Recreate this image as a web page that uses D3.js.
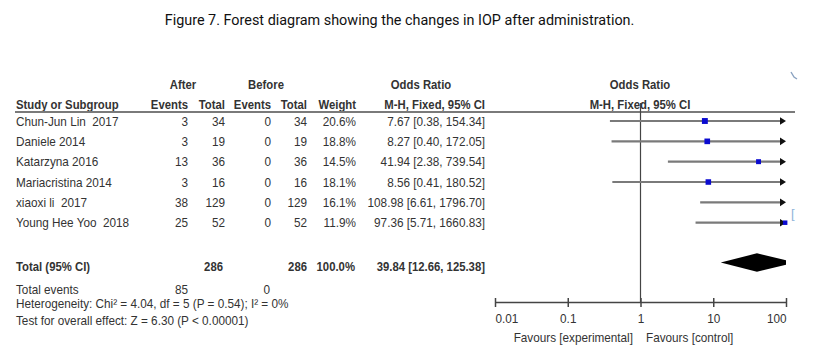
<!DOCTYPE html>
<html><head><meta charset="utf-8">
<script src="https://cdn.jsdelivr.net/npm/d3@7"></script>
<style>
html,body{margin:0;padding:0;background:#fff;}
svg{display:block;}
.t{font-family:"Liberation Sans",Arial,sans-serif;font-size:13.5px;fill:#333;}
.b{font-weight:bold;}
</style></head>
<body>
<script>
const studies = ["Chun-Jun Lin\u00a0 2017","Daniele 2014","Katarzyna 2016","Mariacristina 2014","xiaoxi li\u00a0 2017","Young Hee Yoo\u00a0 2018"];
const afterEvents = [3,3,13,3,38,25];
const afterTotal = [34,19,36,16,129,52];
const beforeEvents = [0,0,0,0,0,0];
const beforeTotal = [34,19,36,16,129,52];
const weights = [20.6,18.8,14.5,18.1,16.1,11.9];
const orValues = [7.67,8.27,41.94,8.56,108.98,97.36];
const ciLow = [0.38,0.40,2.38,0.41,6.61,5.71];
const ciHigh = [154.34,172.05,739.54,180.52,1796.70,1660.83];
const totalRow = ["Total (95% CI)", 286, 286, "100.0%", 39.84, 12.66, 125.38];
const totalEvents = [85, 0];
const axisTicks = [0.01,0.1,1,10,100];
const footnotes = ["Heterogeneity: Chi\u00b2 = 4.04, df = 5 (P = 0.54); I\u00b2 = 0%","Test for overall effect: Z = 6.30 (P < 0.00001)"];

const W=829,H=359;
const SR=0.87, SB=0.84;
const svg=d3.select("body").append("svg").attr("width",W).attr("height",H);

// title
svg.append("text").attr("x",399.5).attr("y",20).attr("dy","0.35em").attr("text-anchor","middle")
  .style("font-family","Roboto, 'Liberation Sans', sans-serif").style("font-size","14.4px").style("fill","#111")
  .text("Figure 7. Forest diagram showing the changes in IOP after administration.");

const x=d3.scaleLog().domain([0.01,100]).range([495,786]);
const y=d3.scaleLinear().domain([0,5]).range([121,222.7]);
const fmt=d3.format(".2f");
const ciText=(o,l,h)=>`${fmt(o)} [${fmt(l)}, ${fmt(h)}]`;

function txt(xp,yp,s,anchor,bold){
  return svg.append("text").attr("class","t"+(bold?" b":""))
    .attr("transform",`translate(${xp},${yp}) scale(${bold?SB:SR},1)`).attr("dy","0.35em")
    .attr("text-anchor",anchor||"start").text(s);
}
const col={name:16,ae:188,at:225,be:271,bt:307,w:356,ci:485,plot:640};

// headers
txt(183,84,"After","middle",true);
txt(266,84,"Before","middle",true);
txt(421,84,"Odds Ratio","middle",true);
txt(640,84,"Odds Ratio","middle",true);
const hy=104;
txt(col.name,hy,"Study or Subgroup","start",true);
txt(col.ae,hy,"Events","end",true);
txt(col.at,hy,"Total","end",true);
txt(col.be,hy,"Events","end",true);
txt(col.bt,hy,"Total","end",true);
txt(col.w,hy,"Weight","end",true);
txt(col.ci,hy,"M-H, Fixed, 95% CI","end",true);
txt(640,hy,"M-H, Fixed, 95% CI","middle",true);
svg.append("line").attr("x1",15).attr("x2",795).attr("y1",112).attr("y2",112).attr("stroke","#7a7a7a").attr("stroke-width",2);

// null line
svg.append("line").attr("x1",x(1)).attr("x2",x(1)).attr("y1",103).attr("y2",302).attr("stroke","#444").attr("stroke-width",1.2);

// rows
studies.forEach((s,i)=>{
  const yy=y(i);
  txt(col.name,yy,s);
  txt(col.ae,yy,afterEvents[i],"end");
  txt(col.at,yy,afterTotal[i],"end");
  txt(col.be,yy,beforeEvents[i],"end");
  txt(col.bt,yy,beforeTotal[i],"end");
  txt(col.w,yy,weights[i].toFixed(1)+"%","end");
  txt(col.ci,yy,ciText(orValues[i],ciLow[i],ciHigh[i]),"end");
  const [d0,d1]=x.domain();
  const lo=Math.max(ciLow[i],d0), hi=Math.min(ciHigh[i],d1);
  const xr=ciHigh[i]>d1?x(d1)-4:x(hi);
  svg.append("line").attr("x1",x(lo)).attr("x2",xr).attr("y1",yy).attr("y2",yy).attr("stroke","#7a7a7a").attr("stroke-width",2.2);
  if(ciHigh[i]>d1){
    const ax=x(d1);
    svg.append("path").attr("d",`M${ax-6},${yy-3.8}L${ax},${yy}L${ax-6},${yy+3.8}Z`).attr("fill","#111");
  }
  if(orValues[i]<=d1){
    const sz=1.3*Math.sqrt(weights[i]);
    svg.append("rect").attr("x",Math.min(x(orValues[i])-sz/2,x(d1)-sz/2)).attr("y",yy-sz/2).attr("width",sz).attr("height",sz).attr("fill","#0a0ad0");
  }
});

// total row
const ty=266.7;
txt(col.name,ty,totalRow[0],"start",true);
txt(223,ty,totalRow[1],"end",true);
txt(col.bt,ty,totalRow[2],"end",true);
txt(355,ty,totalRow[3],"end",true);
txt(col.ci,ty,ciText(totalRow[4],totalRow[5],totalRow[6]),"end",true);
{
  const dy=ty-4.2, hh=9.2;
  const dl=x(totalRow[5]), dc=x(totalRow[4]), xh=x(totalRow[6]), dr=x(100);
  const rh=Math.max(hh*(xh-dr)/(xh-dc),2.2);
  svg.append("path").attr("d",`M${dl},${dy}L${dc},${dy-hh}L${dr},${dy-rh}L${dr},${dy+rh}L${dc},${dy+hh}Z`)
    .attr("fill","#000");
}

txt(col.name,289.3,"Total events");
txt(col.ae,289.3,totalEvents[0],"end");
txt(270,289.3,totalEvents[1],"end");
txt(col.name,303.3,footnotes[0]);
txt(col.name,320.7,footnotes[1]);

// axis
const axY=302;
const ax=svg.append("g").attr("transform",`translate(0,${axY})`)
  .call(d3.axisBottom(x).tickValues(axisTicks).tickFormat(d=>String(d)).tickSize(5).tickSizeOuter(0));
ax.select(".domain").attr("stroke","#444").attr("stroke-width",1.5);
ax.selectAll(".tick line").attr("stroke","#444").attr("stroke-width",1.5).attr("y1",-4).attr("y2",5);
ax.selectAll(".tick text").attr("class","t").attr("y",null).attr("dy",null)
  .attr("transform",`translate(0,16) scale(${SR},1)`).attr("dominant-baseline",null)
  .attr("text-anchor",(d,i,n)=>i===0?"start":(i===n.length-1?"end":"middle"))
  .each(function(){d3.select(this).attr("dy","0.35em");})
  .style("font-size","13.5px").style("fill","#333");
txt(633,337,"Favours [experimental]","end");
txt(646,337,"Favours [control]","start");

// faint screenshot marks
svg.append("text").attr("x",791).attr("y",218).style("font-family","Liberation Sans, sans-serif").style("font-size","13px").style("fill","#8fb4d9").text("[");
svg.append("path").attr("d","M791,72 L794,77 L797,79").attr("fill","none").attr("stroke","#8aa2c0").attr("stroke-width",1.4);
</script>
</body></html>
